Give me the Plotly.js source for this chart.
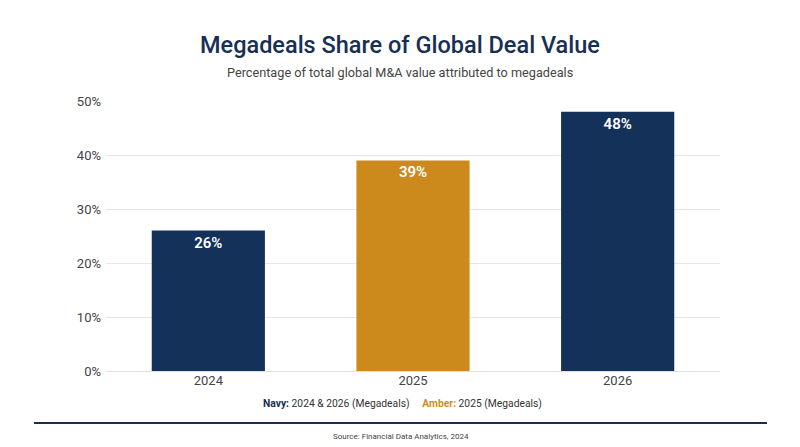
<!DOCTYPE html>
<html>
<head>
<meta charset="utf-8">
<script src="https://cdn.plot.ly/plotly-3.0.1.min.js"></script>
<style>
  html, body { margin: 0; padding: 0; background: #fff; }
  #chart { width: 800px; height: 447px; }
</style>
</head>
<body>
<div id="chart"></div>
<script>
// data
const years = ['2024', '2025', '2026'];
const shares = [26, 39, 48];
const barColors = ['#14315a', '#cc8a1c', '#14315a'];
const yTicks = [0, 10, 20, 30, 40, 50];
const yTickText = yTicks.map(v => v + '%');

const NAVY = '#172f55';
const AMBER = '#cf8d1f';

// plot box: x 106..720, y 101..371 in pixels
const toPaperY = p => (371 - p) / 270;
const toPaperX = p => (p - 106) / 614;

const trace = {
  type: 'bar',
  x: years,
  y: shares,
  width: 0.553,
  marker: { color: barColors, line: { width: 0 } },
  text: shares.map(v => v + '%'),
  textposition: 'inside',
  insidetextanchor: 'end',
  textfont: { family: 'Roboto', size: 15, color: '#ffffff', weight: 600 },
  hoverinfo: 'x+y',
  cliponaxis: false
};

const layout = {
  width: 800,
  height: 447,
  margin: { l: 106, r: 80, t: 101, b: 76 },
  paper_bgcolor: '#ffffff',
  plot_bgcolor: '#ffffff',
  font: { family: 'Roboto, sans-serif', color: '#444' },
  showlegend: false,
  xaxis: {
    type: 'category',
    range: [-0.5, 2.5],
    showgrid: false,
    zeroline: false,
    showline: false,
    ticks: '',
    tickfont: { size: 13, color: '#444' }
  },
  yaxis: {
    range: [0, 50],
    tickmode: 'array',
    tickvals: yTicks,
    ticktext: yTickText,
    showgrid: true,
    gridcolor: '#e6e6e6',
    gridwidth: 1,
    zeroline: true,
    zerolinecolor: '#e0e0e0',
    zerolinewidth: 1,
    showline: false,
    ticks: '',
    ticklabelstandoff: 4,
    tickfont: { size: 13, color: '#444' }
  },
  annotations: [
    {
      text: 'Megadeals Share of Global Deal Value',
      xref: 'paper', yref: 'paper', x: toPaperX(400), y: toPaperY(45),
      xanchor: 'center', yanchor: 'middle', showarrow: false,
      font: { family: 'Roboto', size: 23.5, color: NAVY, weight: 500 }
    },
    {
      text: 'Percentage of total global M&A value attributed to megadeals',
      xref: 'paper', yref: 'paper', x: toPaperX(400), y: toPaperY(72),
      xanchor: 'center', yanchor: 'middle', showarrow: false,
      font: { family: 'Roboto', size: 12.7, color: '#444' }
    },
    {
      text: '<b><span style="color:' + NAVY + '">Navy:</span></b> 2024 &amp; 2026 (Megadeals)' +
            '     <b><span style="color:' + AMBER + '">Amber:</span></b> 2025 (Megadeals)',
      xref: 'paper', yref: 'paper', x: toPaperX(402), y: toPaperY(403),
      xanchor: 'center', yanchor: 'middle', showarrow: false,
      font: { family: 'Roboto', size: 10.3, color: '#333' }
    },
    {
      text: 'Source: Financial Data Analytics, 2024',
      xref: 'paper', yref: 'paper', x: toPaperX(401), y: toPaperY(436),
      xanchor: 'center', yanchor: 'middle', showarrow: false,
      font: { family: 'Roboto', size: 8, color: '#444' }
    }
  ],
  shapes: [
    {
      type: 'line', xref: 'paper', yref: 'paper',
      x0: toPaperX(34), x1: toPaperX(767), y0: toPaperY(423), y1: toPaperY(423),
      line: { color: NAVY, width: 2 }
    }
  ]
};

Plotly.newPlot('chart', [trace], layout, { displayModeBar: false, staticPlot: true });
</script>
</body>
</html>
